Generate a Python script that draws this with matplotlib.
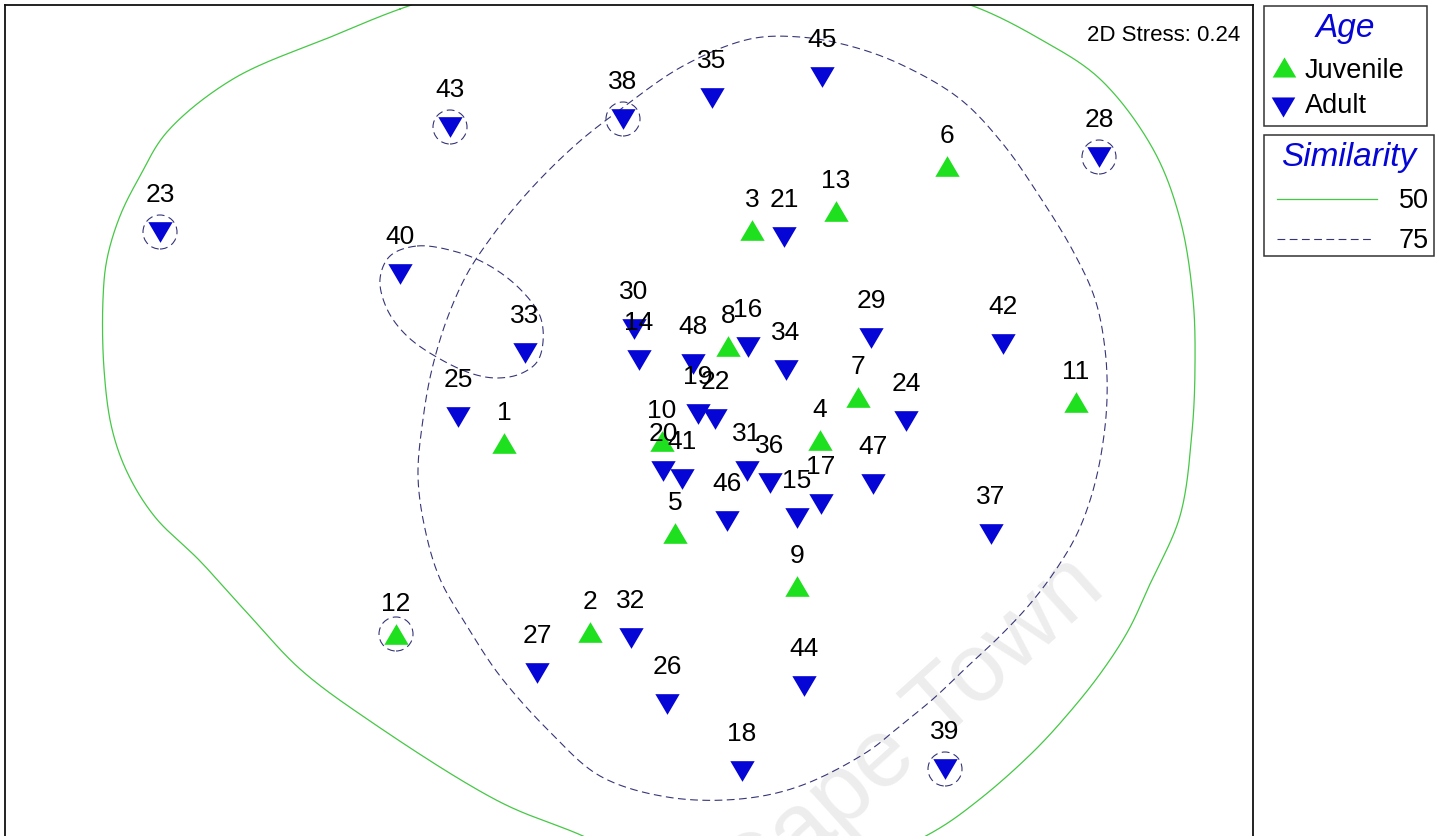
import numpy as np
import matplotlib
matplotlib.use('Agg')
import matplotlib.pyplot as plt
from matplotlib.patches import Circle, Rectangle

plt.rcParams['font.family'] = ['Liberation Sans', 'DejaVu Sans']

# nMDS ordination of 48 samples (coordinates)
sample_ids = list(range(1, 49))
mds_x = [-1.26, -0.40, 1.22, 1.90, 0.45, 3.17, 2.28, 0.98, 1.67, 0.32,
         4.46, -2.34, 2.06, 0.09, 1.67, 1.18, 1.91, 1.12, 0.68, 0.33,
         1.54, 0.85, -4.70, 2.76, -1.72, 0.37, -0.93, 4.69, 2.41, 0.04,
         1.17, 0.01, -1.05, 1.56, 0.82, 1.40, 3.61, -0.07, 3.15, -2.30,
         0.52, 3.73, -1.80, 1.74, 1.92, 0.97, 2.43, 0.63]
mds_y = [-0.24, -2.13, 1.89, -0.21, -1.14, 2.53, 0.22, 0.73, -1.67, -0.22,
         0.17, -2.15, 2.08, 0.59, -0.99, 0.72, -0.85, -3.52, 0.05, -0.52,
         1.82, 0.00, 1.87, -0.02, 0.02, -2.85, -2.54, 2.62, 0.81, 0.90,
         -0.52, -2.19, 0.66, 0.49, 3.21, -0.64, -1.15, 3.00, -3.50, 1.45,
         -0.60, 0.75, 2.92, -2.67, 3.42, -1.02, -0.65, 0.55]
age = ['Juvenile'] * 13 + ['Adult'] * 35

# samples that form their own group at 75% similarity
isolated = [12, 23, 28, 38, 39, 43]

# similarity contours (outline points)
sim50_x = [-2.30, -1.50, -0.30, 0.70, 1.70, 2.70, 3.43, 4.10, 4.70, 5.23,
           5.50, 5.63, 5.65, 5.62, 5.50, 5.20, 4.98, 4.70, 4.38, 4.03,
           3.50, 3.03, 2.20, 1.20, 0.20, -0.47, -1.30, -2.63, -3.30, -3.80,
           -4.30, -4.75, -5.02, -5.18, -5.26, -5.27, -5.23, -5.10, -4.90, -4.63,
           -3.97, -2.97]
sim50_y = [4.10, 4.35, 4.55, 4.60, 4.50, 4.32, 4.13, 3.80, 3.40, 2.70,
           2.00, 1.20, 0.53, -0.13, -0.97, -1.65, -2.12, -2.55, -2.95, -3.33,
           -3.80, -4.13, -4.50, -4.65, -4.50, -4.17, -3.83, -3.00, -2.50, -1.97,
           -1.42, -0.98, -0.55, -0.10, 0.50, 1.20, 1.60, 2.03, 2.43, 2.87,
           3.40, 3.83]

sim75_x = [-0.13, 0.53, 1.20, 1.70, 2.20, 2.70, 3.30, 3.73, 4.10, 4.43,
           4.65, 4.75, 4.77, 4.72, 4.62, 4.47, 4.25, 4.00, 3.70, 3.38,
           3.03, 2.70, 2.37, 1.70, 1.10, 0.37, -0.30, -0.80, -1.30, -1.63,
           -1.90, -2.05, -2.12, -2.07, -1.98, -1.83, -1.63, -1.40, -1.15, -0.85,
           -0.50]
sim75_y = [3.07, 3.53, 3.80, 3.82, 3.73, 3.55, 3.20, 2.75, 2.22, 1.68,
           1.20, 0.70, 0.20, -0.30, -0.75, -1.15, -1.52, -1.85, -2.17, -2.47,
           -2.80, -3.07, -3.33, -3.67, -3.80, -3.78, -3.57, -3.13, -2.57, -2.07,
           -1.60, -1.10, -0.57, 0.00, 0.50, 1.00, 1.45, 1.80, 2.12, 2.45,
           2.78]

# group of samples 40 and 33
pair_x = [-2.13, -1.73, -1.40, -1.10, -0.90, -0.87, -0.93, -1.10, -1.33, -1.57,
          -1.90, -2.23, -2.43, -2.50, -2.40]
pair_y = [1.73, 1.67, 1.53, 1.30, 1.03, 0.77, 0.57, 0.45, 0.41, 0.45,
          0.60, 0.83, 1.10, 1.40, 1.63]

green = '#1ee01e'
blue = '#0505d5'
c50 = '#45c845'
c75 = '#353578'
dash = (0, (7, 4))

up_tri = [(-1, -0.85), (1, -0.85), (0, 0.85)]
down_tri = [(-1, 0.85), (1, 0.85), (0, -0.85)]


def closed_curve(xs, ys, n=30, alpha=0.5):
    # smooth closed outline through the points (centripetal Catmull-Rom)
    p = np.column_stack([xs, ys]).astype(float)
    m = len(p)
    out = []
    for i in range(m):
        p0, p1, p2, p3 = p[i - 1], p[i], p[(i + 1) % m], p[(i + 2) % m]
        t0 = 0.0
        t1 = t0 + np.linalg.norm(p1 - p0) ** alpha
        t2 = t1 + np.linalg.norm(p2 - p1) ** alpha
        t3 = t2 + np.linalg.norm(p3 - p2) ** alpha
        t = np.linspace(t1, t2, n, endpoint=False)[:, None]
        a1 = (t1 - t) / (t1 - t0) * p0 + (t - t0) / (t1 - t0) * p1
        a2 = (t2 - t) / (t2 - t1) * p1 + (t - t1) / (t2 - t1) * p2
        a3 = (t3 - t) / (t3 - t2) * p2 + (t - t2) / (t3 - t2) * p3
        b1 = (t2 - t) / (t2 - t0) * a1 + (t - t0) / (t2 - t0) * a2
        b2 = (t3 - t) / (t3 - t1) * a2 + (t - t1) / (t3 - t1) * a3
        out.append((t2 - t) / (t2 - t1) * b1 + (t - t1) / (t2 - t1) * b2)
    out.append(p[:1])
    out = np.vstack(out)
    return out[:, 0], out[:, 1]


fig = plt.figure(figsize=(14.46, 8.37), dpi=100)
ax = fig.add_axes([5 / 1446, 1 - 845 / 837, 1248 / 1446, 839 / 837])
ax.set_xlim(-6.25, 6.23)
ax.set_ylim(-4.25, 4.14)
ax.set_xticks([])
ax.set_yticks([])
for s in ax.spines.values():
    s.set_linewidth(1.3)
    s.set_color('#111111')

# watermark
ax.text(4.78, -1.72, 'University of Cape Town', fontsize=70, color='#ededed',
        rotation=42, rotation_mode='anchor', ha='right', va='baseline', zorder=0)

# contours
x50, y50 = closed_curve(sim50_x, sim50_y)
ax.plot(x50, y50, color=c50, lw=0.9, zorder=1)
x75, y75 = closed_curve(sim75_x, sim75_y)
ax.plot(x75, y75, color=c75, lw=0.8, linestyle=dash, zorder=1)
xp, yp = closed_curve(pair_x, pair_y)
ax.plot(xp, yp, color=c75, lw=0.8, linestyle=dash, zorder=1)
for sid in isolated:
    i = sample_ids.index(sid)
    ax.add_patch(Circle((mds_x[i], mds_y[i]), 0.17, fill=False, edgecolor=c75,
                        lw=0.8, linestyle=dash, zorder=1))

# points and labels
for sid, x, y, a in zip(sample_ids, mds_x, mds_y, age):
    if a == 'Juvenile':
        ax.plot(x, y, marker=up_tri, ms=17.5, color=green, mec='none', zorder=3)
        off = 17.3
    else:
        ax.plot(x, y, marker=down_tri, ms=17.5, color=blue, mec='none', zorder=3)
        off = 22.3
    ax.annotate(str(sid), (x, y), xytext=(0, off), textcoords='offset points',
                ha='center', va='baseline', fontsize=19, color='black', zorder=4)

ax.text(0.99, 0.965, '2D Stress: 0.24', transform=ax.transAxes, ha='right',
        va='center', fontsize=16)

# legend boxes drawn in pixel coordinates
lg = fig.add_axes([0, 0, 1, 1])
lg.set_xlim(0, 1446)
lg.set_ylim(837, 0)
lg.axis('off')
lg.add_patch(Rectangle((1264, 7), 163, 120, fill=False, edgecolor='#333333', lw=1.1))
lg.add_patch(Rectangle((1264, 136), 170, 121, fill=False, edgecolor='#333333', lw=1.1))
lg.text(1345, 28, 'Age', fontsize=24, style='italic', color=blue, ha='center', va='center')
lg.plot(1284, 68, marker=up_tri, ms=17, color=green, mec='none')
lg.text(1305, 71, 'Juvenile', fontsize=19.5, ha='left', va='center')
lg.plot(1283, 108, marker=down_tri, ms=17, color=blue, mec='none')
lg.text(1305, 106, 'Adult', fontsize=19.5, ha='left', va='center')
lg.text(1349, 157, 'Similarity', fontsize=24, style='italic', color=blue, ha='center', va='center')
lg.plot([1277, 1377], [200, 200], color=c50, lw=0.9)
lg.text(1429, 201, '50', fontsize=19.5, ha='right', va='center')
lg.plot([1277, 1373], [240, 240], color=c75, lw=0.8, linestyle=dash)
lg.text(1429, 241, '75', fontsize=19.5, ha='right', va='center')

fig.savefig('out.png', dpi=100)
